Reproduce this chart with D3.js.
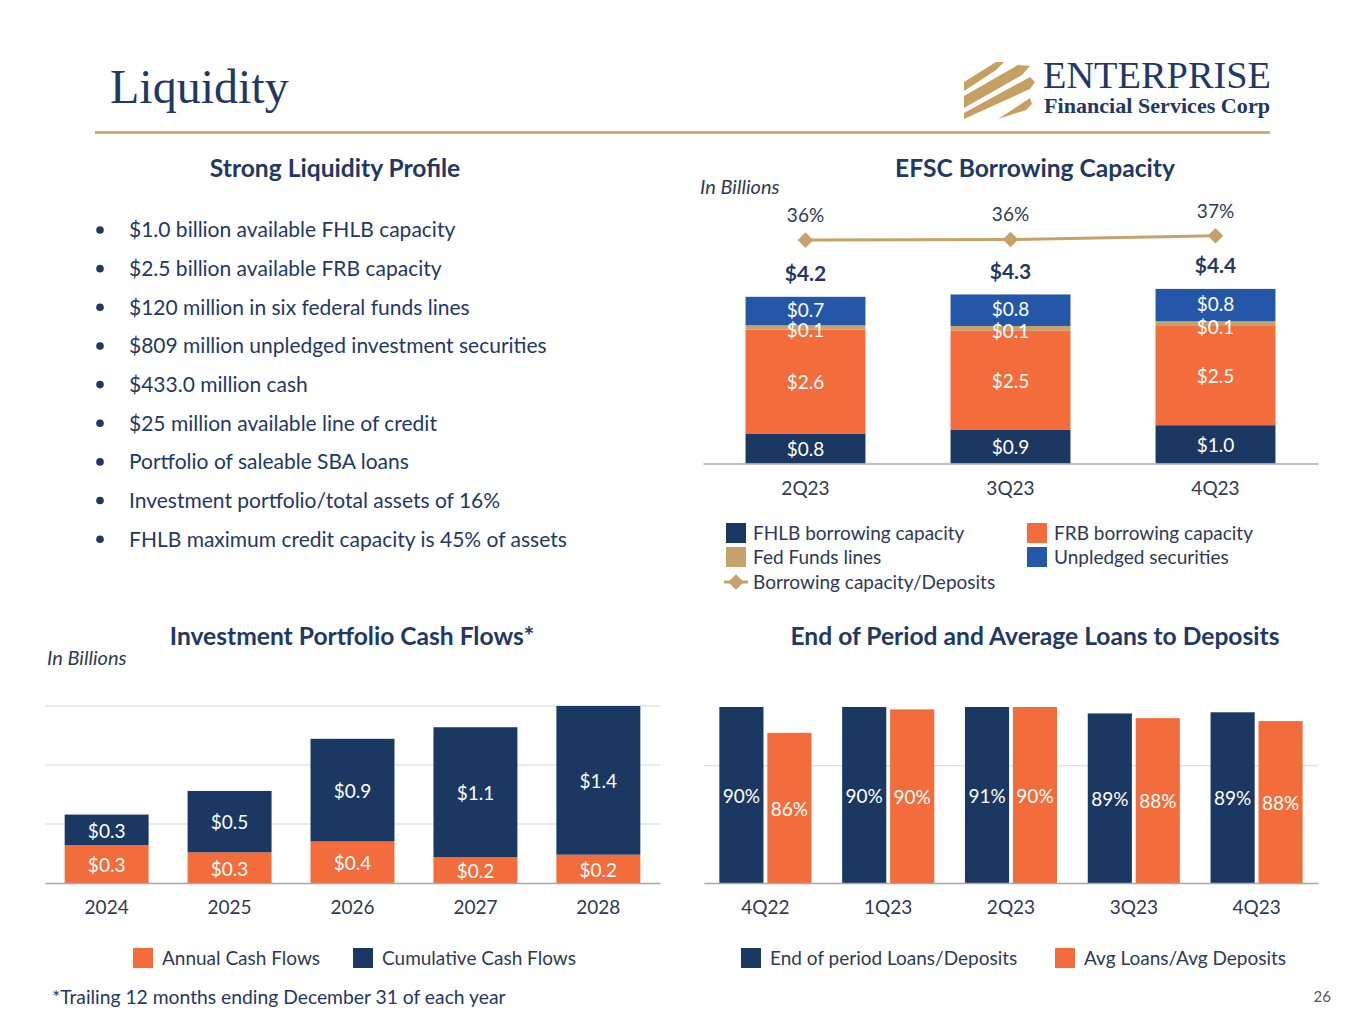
<!DOCTYPE html>
<html>
<head>
<meta charset="utf-8">
<script src="https://cdn.jsdelivr.net/npm/d3@7/dist/d3.min.js"></script>
<style>
  html, body { margin: 0; padding: 0; background: #fff; }
  svg { display: block; }
</style>
</head>
<body>
<svg id="chart" width="1365" height="1024" font-family="Lato, 'Open Sans', sans-serif"></svg>
<script>
// ---------- DATA ----------
const bulletItems = [
  "$1.0 billion available FHLB capacity",
  "$2.5 billion available FRB capacity",
  "$120 million in six federal funds lines",
  "$809 million unpledged investment securities",
  "$433.0 million cash",
  "$25 million available line of credit",
  "Portfolio of saleable SBA loans",
  "Investment portfolio/total assets of 16%",
  "FHLB maximum credit capacity is 45% of assets"
];

const borrowQuarters = ["2Q23", "3Q23", "4Q23"];
const fhlbCapacity   = [0.76, 0.86, 0.97];
const frbCapacity    = [2.63, 2.51, 2.51];
const fedFundsLines  = [0.11, 0.11, 0.12];
const unpledgedSec   = [0.72, 0.80, 0.82];
const capToDeposits  = [36.0, 36.1, 36.7];
const borrowSeriesNames = ["FHLB borrowing capacity", "FRB borrowing capacity", "Fed Funds lines", "Unpledged securities", "Borrowing capacity/Deposits"];

const cfYears      = ["2024", "2025", "2026", "2027", "2028"];
const annualCF     = [0.32, 0.26, 0.352, 0.22, 0.24];
const cumulativeCF = [0.26, 0.52, 0.87, 1.10, 1.40];
const cfSeriesNames = ["Annual Cash Flows", "Cumulative Cash Flows"];
const cfTicks = [0, 0.5, 1.0, 1.5];

const ldQuarters = ["4Q22", "1Q23", "2Q23", "3Q23", "4Q23"];
const eopLD = [90.3, 90.4, 90.6, 88.9, 89.1];
const avgLD = [85.6, 89.6, 90.3, 88.1, 87.6];
const ldSeriesNames = ["End of period Loans/Deposits", "Avg Loans/Avg Deposits"];
const ldTicks = [60, 80];

// ---------- STYLE ----------
const NAVY = "#1b3862", ORANGE = "#f26d3b", BLUE = "#2457a7", GOLD = "#c4a26a";
const TITLE = "#1f3864", TXT = "#2e3a52", GRID = "#e3e3e3", AXIS = "#a8a8a8";
const SERIF = "'Liberation Serif', 'DejaVu Serif', serif";
const LBL = 19;   // data label size
const AXS = 19;   // axis label size
const LEG = 19;   // legend size

const svg = d3.select("#chart");
svg.append("rect").attr("width", 1365).attr("height", 1024).attr("fill", "#fff");

// ---------- HEADER ----------
svg.append("text").attr("x", 110).attr("y", 103)
  .style("font-family", SERIF)
  .attr("font-size", 48).attr("fill", TITLE).text("Liquidity");
svg.append("line").attr("x1", 95).attr("x2", 1270).attr("y1", 132.5).attr("y2", 132.5)
  .attr("stroke", "#c3a066").attr("stroke-width", 2.5);

// logo stripes (decorative)
const logo = svg.append("g").attr("fill", "#c6a062");
const stripes = [
  [[964, 82], [996, 62], [1004, 62], [996, 70], [964, 91]],
  [[964, 96], [1018, 65], [1030, 66], [1022, 75], [964, 108]],
  [[964, 113], [1030, 77], [1035, 82], [1030, 89], [964, 119]],
  [[998, 119], [1030, 98], [1032, 104], [1026, 110], [998, 119]]
];
stripes.forEach(p => logo.append("path").attr("d", d3.line()(p) + "Z"));
svg.append("text").attr("x", 1043).attr("y", 88)
  .style("font-family", SERIF)
  .attr("font-size", 37).attr("fill", TITLE)
  .attr("textLength", 228).attr("lengthAdjust", "spacingAndGlyphs").text("ENTERPRISE");
svg.append("text").attr("x", 1044).attr("y", 113)
  .style("font-family", SERIF)
  .attr("font-size", 21).attr("font-weight", "bold").attr("fill", TITLE)
  .attr("textLength", 226).attr("lengthAdjust", "spacingAndGlyphs").text("Financial Services Corp");

// ---------- SECTION TITLES ----------
function sectionTitle(x, y, t) {
  svg.append("text").attr("x", x).attr("y", y).attr("text-anchor", "middle")
    .attr("font-size", 24.6).attr("font-weight", "bold").attr("fill", TITLE).text(t);
}
sectionTitle(335, 177, "Strong Liquidity Profile");
sectionTitle(1035, 177, "EFSC Borrowing Capacity");
sectionTitle(352, 645, "Investment Portfolio Cash Flows*");
sectionTitle(1035, 645, "End of Period and Average Loans to Deposits");

function italicNote(x, y, t) {
  svg.append("text").attr("x", x).attr("y", y).attr("font-size", 20)
    .attr("font-style", "italic").attr("fill", TXT).text(t);
}
italicNote(700, 194, "In Billions");
italicNote(47, 665, "In Billions");

// ---------- BULLETS ----------
const bulletG = svg.append("g");
bulletItems.forEach((t, i) => {
  const y = 230 + i * 38.65;
  bulletG.append("circle").attr("cx", 100).attr("cy", y).attr("r", 3.8).attr("fill", TITLE);
  bulletG.append("text").attr("x", 129).attr("y", y).attr("dy", "0.35em")
    .attr("font-size", 21).attr("fill", TITLE).text(t);
});

const fmt1 = v => "$" + v.toFixed(1);

function styleAxis(ax) {
  ax.select(".domain").attr("stroke", AXIS).attr("stroke-width", 1.5);
  ax.selectAll("text").attr("font-size", AXS).attr("fill", TXT).attr("font-family", "Lato, sans-serif");
}

// ---------- EFSC BORROWING CAPACITY ----------
{
  const base = 463.5;
  const x = d3.scaleBand().domain(borrowQuarters).range([703, 1318]).paddingInner(0.415).paddingOuter(0.2075);
  const y = d3.scaleLinear().domain([0, 5]).range([base, base - 197.5]);
  const y2 = d3.scaleLinear().domain([0, 40]).range([base, 215.3]);
  const rows = borrowQuarters.map((q, i) => ({ q, fhlb: fhlbCapacity[i], frb: frbCapacity[i], fed: fedFundsLines[i], unp: unpledgedSec[i] }));
  const keys = ["fhlb", "frb", "fed", "unp"];
  const colors = { fhlb: NAVY, frb: ORANGE, fed: GOLD, unp: BLUE };
  const nudge = { fhlb: 1, frb: 1, fed: 3, unp: -1 };
  const stack = d3.stack().keys(keys)(rows);
  const g = svg.append("g");
  stack.forEach(layer => {
    g.selectAll(null).data(layer).join("rect")
      .attr("x", d => x(d.data.q)).attr("width", x.bandwidth())
      .attr("y", d => y(d[1])).attr("height", d => y(d[0]) - y(d[1]))
      .attr("fill", colors[layer.key]);
  });
  stack.forEach(layer => {
    g.selectAll(null).data(layer).join("text")
      .attr("x", d => x(d.data.q) + x.bandwidth() / 2)
      .attr("y", d => (y(d[0]) + y(d[1])) / 2 + nudge[layer.key])
      .attr("dy", "0.36em").attr("text-anchor", "middle")
      .attr("font-size", LBL).attr("fill", "#fff")
      .text(d => fmt1(d.data[layer.key]));
  });
  // totals
  g.selectAll(null).data(rows).join("text")
    .attr("x", d => x(d.q) + x.bandwidth() / 2)
    .attr("y", d => y(d.fhlb + d.frb + d.fed + d.unp) - 23)
    .attr("dy", "0.36em").attr("text-anchor", "middle")
    .attr("font-size", 21).attr("font-weight", "bold").attr("fill", TITLE)
    .text(d => fmt1(d.fhlb + d.frb + d.fed + d.unp));
  // axis
  styleAxis(g.append("g").attr("transform", `translate(0,${base})`)
    .call(d3.axisBottom(x).tickSize(0).tickPadding(18)));
  // ratio line
  const pts = borrowQuarters.map((q, i) => [x(q) + x.bandwidth() / 2, y2(capToDeposits[i])]);
  g.append("path").attr("d", d3.line()(pts)).attr("fill", "none").attr("stroke", GOLD).attr("stroke-width", 3);
  g.selectAll(null).data(pts).join("path")
    .attr("transform", d => `translate(${d[0]},${d[1]}) rotate(45)`)
    .attr("d", "M-5.5,-5.5H5.5V5.5H-5.5Z").attr("fill", GOLD);
  g.selectAll(null).data(pts).join("text")
    .attr("x", d => d[0]).attr("y", d => d[1] - 25).attr("dy", "0.36em")
    .attr("text-anchor", "middle").attr("font-size", LBL).attr("fill", TXT)
    .text((d, i) => Math.round(capToDeposits[i]) + "%");
  // legend
  const lg = svg.append("g").attr("font-size", LEG).attr("fill", TXT);
  const leg = [
    { n: borrowSeriesNames[0], c: NAVY, x: 726, y: 533 },
    { n: borrowSeriesNames[1], c: ORANGE, x: 1027, y: 533 },
    { n: borrowSeriesNames[2], c: GOLD, x: 726, y: 557 },
    { n: borrowSeriesNames[3], c: BLUE, x: 1027, y: 557 }
  ];
  leg.forEach(l => {
    lg.append("rect").attr("x", l.x).attr("y", l.y - 10).attr("width", 20).attr("height", 20).attr("fill", l.c);
    lg.append("text").attr("x", l.x + 27).attr("y", l.y).attr("dy", "0.35em").text(l.n);
  });
  lg.append("line").attr("x1", 724).attr("x2", 748).attr("y1", 582).attr("y2", 582).attr("stroke", GOLD).attr("stroke-width", 3);
  lg.append("path").attr("transform", "translate(736,582) rotate(45)").attr("d", "M-5.5,-5.5H5.5V5.5H-5.5Z").attr("fill", GOLD);
  lg.append("text").attr("x", 753).attr("y", 582).attr("dy", "0.35em").text(borrowSeriesNames[4]);
}

// ---------- INVESTMENT PORTFOLIO CASH FLOWS ----------
{
  const base = 883;
  const x = d3.scaleBand().domain(cfYears).range([45, 660]).paddingInner(0.317).paddingOuter(0.16);
  const y = d3.scaleLinear().domain([0, 1.5]).range([base, 706]);
  const g = svg.append("g");
  g.selectAll(null).data(cfTicks.slice(1)).join("line")
    .attr("x1", 45).attr("x2", 660).attr("y1", d => y(d)).attr("y2", d => y(d))
    .attr("stroke", GRID).attr("stroke-width", 1.5);
  svg.append("clipPath").attr("id", "cfclip").append("rect")
    .attr("x", 0).attr("y", y(1.5)).attr("width", 1365).attr("height", base - y(1.5) + 1);
  const bars = g.append("g").attr("clip-path", "url(#cfclip)");
  const rows = cfYears.map((yr, i) => ({ yr, a: annualCF[i], c: cumulativeCF[i] }));
  bars.selectAll(null).data(rows).join("rect")
    .attr("x", d => x(d.yr)).attr("width", x.bandwidth())
    .attr("y", d => y(d.a)).attr("height", d => base - y(d.a)).attr("fill", ORANGE);
  bars.selectAll(null).data(rows).join("rect")
    .attr("x", d => x(d.yr)).attr("width", x.bandwidth())
    .attr("y", d => y(d.a + d.c)).attr("height", d => y(d.a) - y(d.a + d.c)).attr("fill", NAVY);
  g.selectAll(null).data(rows).join("text")
    .attr("x", d => x(d.yr) + x.bandwidth() / 2).attr("y", d => (base + y(d.a)) / 2 + 1)
    .attr("dy", "0.36em").attr("text-anchor", "middle").attr("font-size", LBL).attr("fill", "#fff")
    .text(d => fmt1(d.a));
  g.selectAll(null).data(rows).join("text")
    .attr("x", d => x(d.yr) + x.bandwidth() / 2)
    .attr("y", d => (y(d.a) + Math.max(y(d.a + d.c), y(1.5))) / 2 + 1)
    .attr("dy", "0.36em").attr("text-anchor", "middle").attr("font-size", LBL).attr("fill", "#fff")
    .text(d => fmt1(d.c));
  styleAxis(g.append("g").attr("transform", `translate(0,${base})`)
    .call(d3.axisBottom(x).tickSize(0).tickPadding(18)));
  const lg = svg.append("g").attr("font-size", LEG).attr("fill", TXT);
  [[cfSeriesNames[0], ORANGE, 133], [cfSeriesNames[1], NAVY, 353]].forEach(([n, c, lx]) => {
    lg.append("rect").attr("x", lx).attr("y", 948).attr("width", 20).attr("height", 20).attr("fill", c);
    lg.append("text").attr("x", lx + 29).attr("y", 958).attr("dy", "0.35em").text(n);
  });
}

// ---------- LOANS TO DEPOSITS ----------
{
  const base = 883;
  const x0 = d3.scaleBand().domain(ldQuarters).range([704, 1318]).paddingInner(0.25).paddingOuter(0.125);
  const x1 = d3.scaleBand().domain(["eop", "avg"]).range([0, x0.bandwidth()]).paddingInner(0.08);
  const y = d3.scaleLinear().domain([60, 90]).range([base, 707]).clamp(true);
  const g = svg.append("g");
  g.selectAll(null).data(ldTicks.slice(1)).join("line")
    .attr("x1", 704).attr("x2", 1318).attr("y1", d => y(d)).attr("y2", d => y(d))
    .attr("stroke", GRID).attr("stroke-width", 1.5);
  const rows = [];
  ldQuarters.forEach((q, i) => {
    rows.push({ q, k: "eop", v: eopLD[i], c: NAVY });
    rows.push({ q, k: "avg", v: avgLD[i], c: ORANGE });
  });
  g.selectAll(null).data(rows).join("rect")
    .attr("x", d => x0(d.q) + x1(d.k)).attr("width", x1.bandwidth())
    .attr("y", d => y(d.v)).attr("height", d => base - y(d.v)).attr("fill", d => d.c);
  g.selectAll(null).data(rows).join("text")
    .attr("x", d => x0(d.q) + x1(d.k) + x1.bandwidth() / 2)
    .attr("y", d => (base + y(d.v)) / 2 + 1).attr("dy", "0.36em")
    .attr("text-anchor", "middle").attr("font-size", LBL).attr("fill", "#fff")
    .text(d => Math.round(d.v) + "%");
  styleAxis(g.append("g").attr("transform", `translate(0,${base})`)
    .call(d3.axisBottom(x0).tickSize(0).tickPadding(18)));
  const lg = svg.append("g").attr("font-size", LEG).attr("fill", TXT);
  [[ldSeriesNames[0], NAVY, 741], [ldSeriesNames[1], ORANGE, 1055]].forEach(([n, c, lx]) => {
    lg.append("rect").attr("x", lx).attr("y", 948).attr("width", 20).attr("height", 20).attr("fill", c);
    lg.append("text").attr("x", lx + 29).attr("y", 958).attr("dy", "0.35em").text(n);
  });
}

// ---------- FOOTER ----------
svg.append("text").attr("x", 52).attr("y", 997).attr("dy", "0.35em").attr("font-size", 19.3)
  .attr("fill", TITLE).text("*Trailing 12 months ending December 31 of each year");
svg.append("text").attr("x", 1331).attr("y", 997).attr("dy", "0.35em").attr("text-anchor", "end")
  .attr("font-size", 15).attr("fill", "#555").text("26");
</script>
</body>
</html>
